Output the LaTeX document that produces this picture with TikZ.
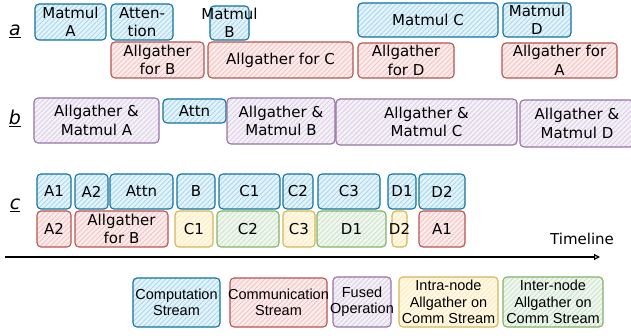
\documentclass[tikz,border=0pt]{standalone}
\usepackage{fontspec}
\setmainfont{DejaVu Sans}
\newfontfamily\legfont{Liberation Sans}
\usetikzlibrary{patterns.meta,arrows.meta}
\definecolor{bS}{HTML}{10739E}\definecolor{bF}{HTML}{A8D8F0}
\definecolor{rS}{HTML}{B85450}\definecolor{rF}{HTML}{F5C4C2}
\definecolor{pS}{HTML}{9673A6}\definecolor{pF}{HTML}{DDCFE6}
\definecolor{yS}{HTML}{D6B656}\definecolor{yF}{HTML}{FFEBB8}
\definecolor{gS}{HTML}{82B366}\definecolor{gF}{HTML}{CDE4CB}
\tikzset{
  boxbase/.style={draw, rounded corners=4pt, line width=1.1pt, inner sep=0pt},
  hatchbox/.style 2 args={boxbase, draw=#1, preaction={fill=#2!30!white},
    pattern={Lines[angle=45,distance=3.5pt,line width=0.9pt]}, pattern color=#2},
  comp/.style={hatchbox={bS}{bF}},
  comm/.style={hatchbox={rS}{rF}},
  fused/.style={hatchbox={pS}{pF}},
  intra/.style={hatchbox={yS}{yF}},
  inter/.style={hatchbox={gS}{gF}},
  labsty/.style={align=center, inner sep=0pt, text=black, font=\fontsize{15}{18.5}\selectfont},
  legsty/.style={align=center, inner sep=0pt, text=black, font=\legfont\fontsize{14.5}{16.5}\selectfont},
  rowlab/.style={inner sep=0pt, font=\fontsize{19}{20}\selectfont},
}
\newcommand\bx[7]{\node[#1, minimum width={(#5-#3)*1pt}, minimum height={(#6-#4)*1pt}, label={[labsty]center:{#7}}] (#2) at ({(#3+#5)/2},{(#4+#6)/2}) {};}
\newcommand\lbx[7]{\node[#1, minimum width={(#5-#3)*1pt}, minimum height={(#6-#4)*1pt}, label={[legsty]center:{#7}}] (#2) at ({(#3+#5)/2},{(#4+#6)/2}) {};}
\begin{document}
\begin{tikzpicture}[x=1pt,y=-1pt]
\useasboundingbox (0,0) rectangle (631,336);
% row labels
\node[rowlab] (la) at (15,31) {\underline{\textit{a}}};
\node[rowlab] (lb) at (15,118) {\underline{\textit{b}}};
\node[rowlab] (lc) at (15,205) {\underline{\textit{c}}};
% row a
\bx{comp}{mA}{35}{4}{106}{40}{Matmul\\A}
\bx{comp}{att}{111}{4}{173}{40}{Atten-\\tion}
\bx{comp}{mB}{210}{6}{249}{40}{Matmul\\B}
\bx{comm}{agB}{111}{42}{204}{78}{Allgather\\for B}
\bx{comm}{agC}{208}{42}{353}{78}{Allgather for C}
\bx{comp}{mC}{358}{3}{498}{37}{Matmul C}
\bx{comp}{mD}{503}{3}{571}{37}{Matmul\\D}
\bx{comm}{agD}{358}{43}{454}{78}{Allgather\\for D}
\bx{comm}{agA}{502}{43}{617}{78}{Allgather for\\A}
% row b
\bx{fused}{fA}{34}{98}{159}{143}{Allgather \&\\Matmul A}
\bx{comp}{attnb}{163}{99}{226}{123}{Attn}
\bx{fused}{fB}{227}{98}{335}{144}{Allgather \&\\Matmul B}
\bx{fused}{fC}{336}{99}{517}{145}{Allgather \&\\Matmul C}
\bx{fused}{fD}{520}{100}{634}{147}{Allgather \&\\Matmul D}
% row c top
\bx{comp}{cA1}{37}{174}{71}{209}{A1}
\bx{comp}{cA2}{75}{174}{108}{209}{A2}
\bx{comp}{cAt}{110}{174}{173}{209}{Attn}
\bx{comp}{cB}{177}{174}{215}{209}{B}
\bx{comp}{cC1}{219}{174}{280}{209}{C1}
\bx{comp}{cC2}{283}{174}{313}{209}{C2}
\bx{comp}{cC3}{318}{174}{380}{209}{C3}
\bx{comp}{cD1}{388}{174}{416}{209}{D1}
\bx{comp}{cD2}{419}{174}{465}{209}{D2}
% row c bottom
\bx{comm}{dA2}{37}{211}{71}{247}{A2}
\bx{comm}{dAgB}{75}{211}{168}{247}{Allgather\\for B}
\bx{intra}{dC1}{175}{211}{213}{247}{C1}
\bx{inter}{dC2}{217}{211}{279}{247}{C2}
\bx{intra}{dC3}{283}{211}{315}{247}{C3}
\bx{inter}{dD1}{317}{211}{386}{247}{D1}
\bx{intra}{dD2}{392}{211}{407}{247}{D2}
\bx{comm}{dA1}{419}{211}{465}{247}{A1}
% timeline
\coordinate (t0) at (5,257);
\coordinate (t1) at (600,257);
\draw[line width=1.2pt, -{Triangle[open, length=6pt, width=6pt]}] (t0) -- (t1);
\node[labsty] (tl) at (582,239) {Timeline};
% legend
\lbx{comp}{gComp}{133}{278}{220}{327}{Computation\\Stream}
\lbx{comm}{gComm}{230}{278}{327}{327}{Communication\\Stream}
\lbx{fused}{gFused}{333}{277}{391}{327}{Fused\\Operation}
\lbx{intra}{gIntra}{399}{277}{498}{327}{Intra-node\\Allgather on\\Comm Stream}
\lbx{inter}{gInter}{503}{277}{603}{327}{Inter-node\\Allgather on\\Comm Stream}
\end{tikzpicture}
\end{document}
